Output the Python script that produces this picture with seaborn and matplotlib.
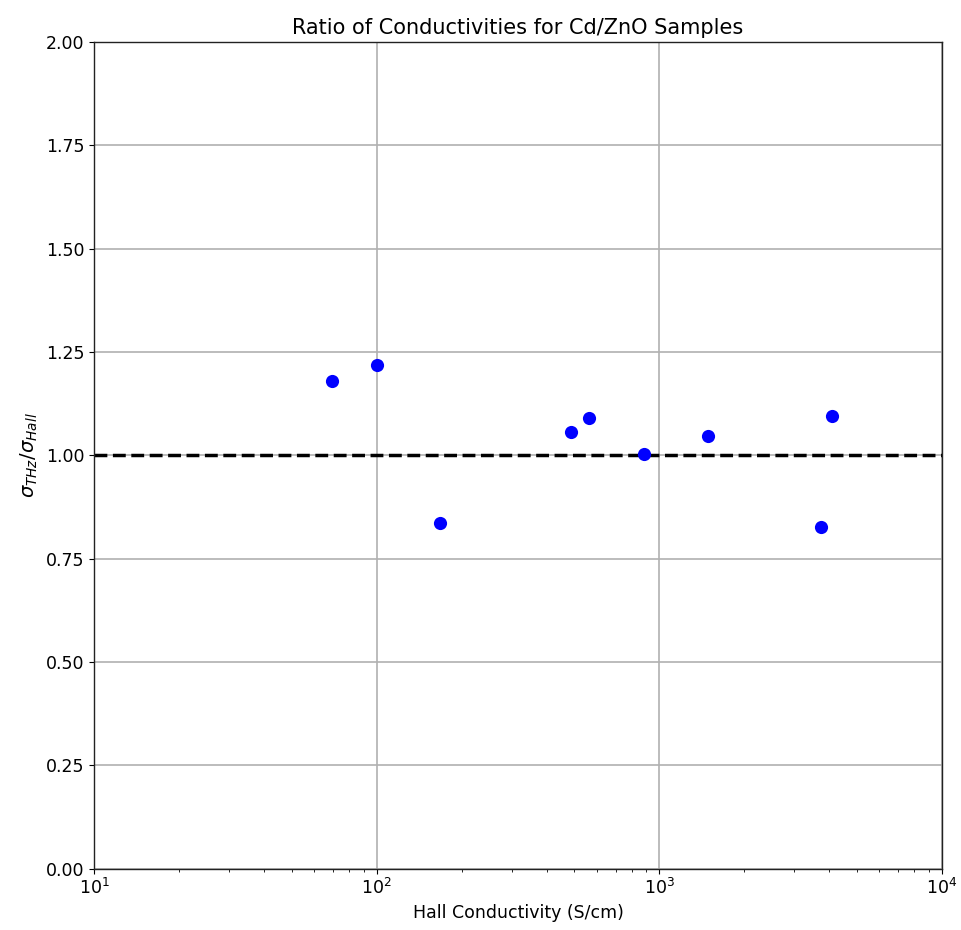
import numpy as np
import pandas as pd
import matplotlib
matplotlib.use("Agg")
import matplotlib.pyplot as plt
import seaborn as sns

# values
hall_conductivity = [69.5, 100, 167.5, 486, 564, 883, 1486, 3733, 4083]
conductivity_ratio = [1.180, 1.219, 0.837, 1.057, 1.091, 1.004, 1.047, 0.827, 1.096]

df = pd.DataFrame({"hall": hall_conductivity, "ratio": conductivity_ratio})

sns.set_style("ticks", {"text.color": "black", "axes.labelcolor": "black",
                        "xtick.color": "black", "ytick.color": "black",
                        "axes.edgecolor": "#222222"})
plt.rcParams["font.family"] = ["DejaVu Sans"]

fig, ax = plt.subplots(figsize=(9.62, 9.30), dpi=100)
sns.scatterplot(data=df, x="hall", y="ratio", color="blue", s=90,
                edgecolor="blue", linewidth=0, ax=ax, zorder=3)
ax.axhline(1.0, color="black", linestyle="--", linewidth=2.5, zorder=2)

ax.set_xscale("log")
ax.set_xlim(10, 1e4)
ax.set_ylim(0, 2)
ax.set_yticks(np.arange(0, 2.01, 0.25))
ax.yaxis.set_major_formatter(matplotlib.ticker.FormatStrFormatter("%.2f"))
ax.grid(True, which="major", color="#b0b0b0", linewidth=1.2)
ax.set_axisbelow(True)
ax.tick_params(labelsize=12.5, colors="black")
for sp in ax.spines.values():
    sp.set_visible(True)
    sp.set_linewidth(1.0)

ax.set_title("Ratio of Conductivities for Cd/ZnO Samples", fontsize=15, color="black")
ax.set_xlabel("Hall Conductivity (S/cm)", fontsize=12.5, color="black")
ax.set_ylabel(r"$\sigma_{THz}/\sigma_{Hall}$", fontsize=14, color="black")

fig.subplots_adjust(left=0.098, right=0.979, top=0.955, bottom=0.066)
fig.savefig("out.png", dpi=100)
